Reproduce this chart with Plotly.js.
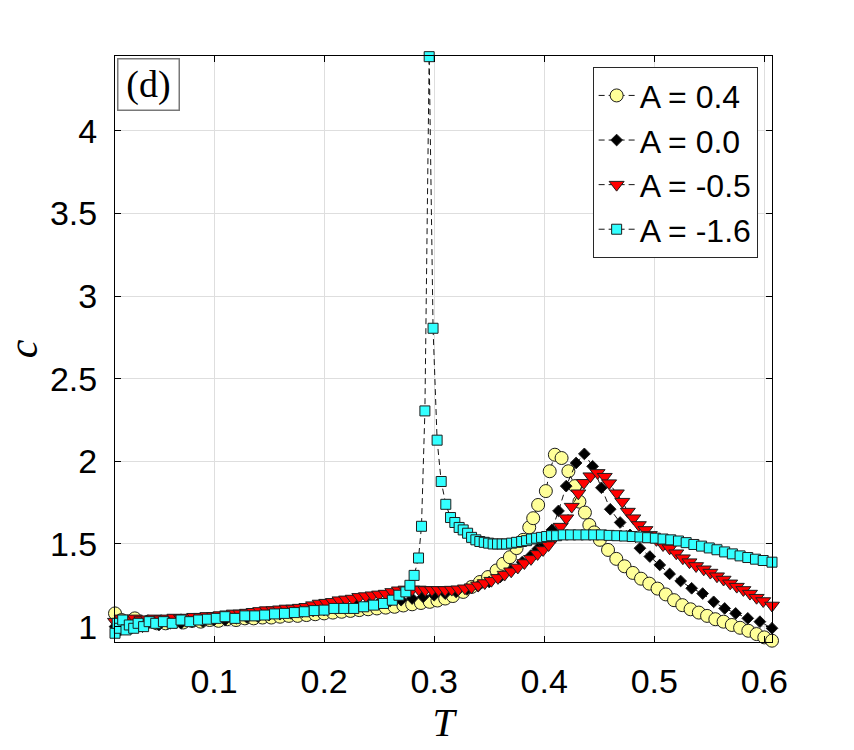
<!DOCTYPE html>
<html>
<head>
<meta charset="utf-8">
<script src="https://cdn.plot.ly/plotly-3.0.1.min.js"></script>
<style>html,body{margin:0;padding:0;background:#fff;}#chart{width:854px;height:750px;}</style>
</head>
<body>
<div id="chart"></div>
<script>
// Series names (legend labels)
const seriesNames = ["A = 0.4", "A = 0.0", "A = -0.5", "A = -1.6"];

// A = 0.4
const T_A04 = [0.010,0.016,0.022,0.028,0.034,0.040,0.048,0.056,0.064,0.072,
 0.080,0.088,0.096,0.104,0.112,0.120,0.128,0.136,0.144,0.152,
 0.160,0.168,0.176,0.184,0.192,0.200,0.208,0.216,0.224,0.232,
 0.240,0.248,0.256,0.264,0.272,0.280,0.288,0.296,0.303,0.310,
 0.317,0.3264,0.334,0.3416,0.349,0.3567,0.3627,0.3688,0.3749,0.3809,
 0.3864,0.390,0.3945,0.4015,0.405,0.4097,0.4158,0.422,0.428,0.432,
 0.437,0.441,0.4455,0.4506,0.458,0.4655,0.473,0.4805,0.488,0.4955,
 0.503,0.5105,0.518,0.5255,0.533,0.5405,0.548,0.5555,0.563,0.5705,
 0.578,0.5855,0.593,0.600,0.607];
const C_A04 = [1.08,1.04,1.01,1.05,1.01,1.03,1.02,1.02,1.03,1.025,
 1.035,1.03,1.04,1.035,1.045,1.04,1.05,1.05,1.055,1.055,
 1.06,1.065,1.065,1.07,1.075,1.08,1.085,1.09,1.095,1.10,
 1.105,1.11,1.115,1.12,1.128,1.135,1.143,1.15,1.158,1.17,
 1.185,1.21,1.24,1.27,1.30,1.34,1.38,1.42,1.475,1.525,
 1.60,1.656,1.736,1.82,1.94,2.04,2.02,1.94,1.85,1.756,
 1.69,1.615,1.57,1.525,1.464,1.41,1.365,1.325,1.29,1.26,
 1.23,1.195,1.16,1.13,1.105,1.085,1.065,1.045,1.03,1.01,
 0.993,0.975,0.955,0.935,0.915];

// A = 0.0
const T_A00 = [0.010,0.015,0.020,0.025,0.030,0.035,0.040,0.050,0.060,0.070,
 0.080,0.090,0.100,0.110,0.120,0.130,0.140,0.150,0.160,0.170,
 0.180,0.190,0.200,0.210,0.220,0.230,0.240,0.250,0.260,0.270,
 0.280,0.290,0.300,0.310,0.320,0.330,0.340,0.350,0.360,0.370,
 0.380,0.388,0.394,0.399,0.407,0.413,0.420,0.429,0.4365,0.444,
 0.452,0.460,0.469,0.478,0.487,0.496,0.505,0.514,0.524,0.534,
 0.544,0.554,0.564,0.574,0.585,0.596,0.607];
const C_A00 = [1.00,0.98,1.02,0.99,1.01,1.00,1.02,1.01,1.02,1.02,
 1.03,1.03,1.04,1.04,1.05,1.055,1.06,1.07,1.075,1.08,
 1.09,1.095,1.10,1.11,1.12,1.13,1.14,1.145,1.155,1.16,
 1.17,1.18,1.19,1.20,1.21,1.225,1.245,1.27,1.30,1.34,
 1.39,1.43,1.47,1.505,1.585,1.70,1.85,1.99,2.045,1.97,
 1.84,1.71,1.63,1.555,1.474,1.424,1.373,1.319,1.276,1.232,
 1.20,1.15,1.11,1.08,1.05,1.03,0.99];

// A = -0.5
const T_Am05 = [0.010,0.016,0.022,0.028,0.034,0.040,0.046,0.052,0.058,0.064,
 0.070,0.076,0.082,0.088,0.094,0.100,0.106,0.112,0.118,0.124,
 0.130,0.136,0.142,0.148,0.154,0.160,0.166,0.172,0.178,0.184,
 0.190,0.196,0.202,0.208,0.214,0.220,0.226,0.232,0.238,0.244,
 0.250,0.256,0.262,0.268,0.274,0.280,0.286,0.292,0.298,0.304,
 0.310,0.316,0.322,0.328,0.334,0.340,0.346,0.352,0.358,0.364,
 0.370,0.376,0.382,0.388,0.394,0.399,0.404,0.410,0.415,0.420,
 0.425,0.431,0.436,0.442,0.4485,0.455,0.459,0.466,0.471,0.476,
 0.481,0.486,0.492,0.496,0.502,0.508,0.514,0.520,0.526,0.532,
 0.538,0.545,0.551,0.557,0.563,0.569,0.575,0.581,0.587,0.593,
 0.599,0.607];
const C_Am05 = [1.03,1.05,1.04,1.05,1.04,1.045,1.05,1.045,1.05,1.055,
 1.05,1.055,1.06,1.06,1.065,1.065,1.07,1.075,1.08,1.08,
 1.085,1.09,1.095,1.10,1.10,1.105,1.11,1.11,1.115,1.12,
 1.13,1.14,1.145,1.15,1.16,1.165,1.17,1.18,1.185,1.19,
 1.195,1.20,1.21,1.22,1.225,1.225,1.225,1.222,1.222,1.222,
 1.222,1.224,1.226,1.232,1.238,1.25,1.264,1.278,1.295,1.315,
 1.335,1.358,1.385,1.41,1.44,1.464,1.494,1.544,1.605,1.656,
 1.726,1.807,1.87,1.91,1.93,1.907,1.868,1.807,1.756,1.696,
 1.656,1.615,1.585,1.555,1.525,1.494,1.474,1.444,1.414,1.39,
 1.367,1.347,1.327,1.305,1.285,1.262,1.242,1.222,1.20,1.175,
 1.155,1.128];

// A = -1.6
const T_Am16 = [0.010,0.012,0.014,0.017,0.020,0.023,0.027,0.031,0.036,0.041,
 0.047,0.054,0.062,0.070,0.078,0.086,0.094,0.102,0.110,0.119,
 0.128,0.137,0.146,0.155,0.164,0.173,0.182,0.191,0.200,0.209,
 0.218,0.227,0.236,0.245,0.254,0.262,0.268,0.2743,0.278,0.2818,
 0.2858,0.2885,0.2916,0.2955,0.299,0.3027,0.3064,0.3106,0.3149,0.3188,
 0.3227,0.3264,0.3304,0.334,0.3379,0.3415,0.3455,0.3495,0.3536,0.3576,
 0.3618,0.3658,0.3704,0.3749,0.3795,0.384,0.3885,0.3931,0.3976,0.4022,
 0.4067,0.4113,0.4173,0.424,0.431,0.438,0.445,0.452,0.459,0.466,
 0.473,0.480,0.487,0.494,0.501,0.508,0.515,0.522,0.529,0.536,
 0.543,0.550,0.557,0.564,0.571,0.578,0.585,0.592,0.599,0.607];
const C_Am16 = [0.96,1.02,0.99,1.04,0.98,1.01,0.99,1.02,1.00,1.03,
 1.02,1.03,1.02,1.04,1.03,1.04,1.045,1.05,1.06,1.05,
 1.065,1.065,1.07,1.077,1.08,1.085,1.09,1.097,1.10,1.11,
 1.11,1.11,1.12,1.13,1.14,1.16,1.19,1.21,1.25,1.31,
 1.415,1.607,2.305,4.448,2.805,2.128,1.878,1.74,1.66,1.63,
 1.60,1.585,1.565,1.54,1.525,1.515,1.51,1.505,1.50,1.50,
 1.50,1.50,1.505,1.51,1.515,1.52,1.53,1.535,1.54,1.545,
 1.55,1.55,1.555,1.555,1.555,1.555,1.555,1.555,1.552,1.55,
 1.548,1.545,1.542,1.538,1.535,1.53,1.525,1.518,1.508,1.497,
 1.487,1.476,1.465,1.452,1.44,1.428,1.418,1.408,1.40,1.39];

const xTicks = [0.1, 0.2, 0.3, 0.4, 0.5, 0.6];
const yTicks = [1, 1.5, 2, 2.5, 3, 3.5, 4];

const edge = 'rgb(30,30,30)';
const lineStyle = {color: 'rgb(20,20,20)', width: 1, dash: '6px,4px'};

function mk(x, y, name, symbol, size, fill) {
  return {
    x: x, y: y, name: name, type: 'scatter', mode: 'lines+markers',
    cliponaxis: false,
    line: lineStyle,
    marker: {symbol: symbol, size: size, color: fill, line: {color: edge, width: 1}}
  };
}

const data = [
  mk(T_A04, C_A04, seriesNames[0], 'circle', 13, 'rgb(255,255,153)'),
  mk(T_A00, C_A00, seriesNames[1], 'diamond', 9, 'rgb(0,0,0)'),
  mk(T_Am05, C_Am05, seriesNames[2], 'triangle-down', 13, 'rgb(255,0,0)'),
  mk(T_Am16, C_Am16, seriesNames[3], 'square', 10, 'rgb(51,255,255)')
];

const axisCommon = {
  showline: true, linecolor: 'black', linewidth: 1, mirror: 'ticks',
  ticks: 'inside', ticklen: 6, tickcolor: 'black', tickwidth: 1,
  showgrid: true, gridcolor: 'rgb(222,222,222)', gridwidth: 1,
  zeroline: false,
  tickfont: {family: 'Liberation Sans, Arial, sans-serif', size: 34, color: 'black'}
};

const layout = {
  width: 854, height: 750,
  paper_bgcolor: 'white', plot_bgcolor: 'white',
  margin: {l: 115, r: 82, t: 56, b: 108},
  showlegend: true,
  xaxis: Object.assign({}, axisCommon, {
    range: [0.01, 0.607], tickvals: xTicks, ticktext: xTicks.map(String),
    ticklabelstandoff: 9,
    title: {text: 'T', font: {family: 'Liberation Serif, serif', size: 40, style: 'italic', color: 'black'}, standoff: 0}
  }),
  yaxis: Object.assign({}, axisCommon, {
    range: [0.907, 4.452], tickvals: yTicks, ticktext: yTicks.map(String),
    ticklabelstandoff: 10,
    title: {text: 'c', font: {family: 'Liberation Serif, serif', size: 42, style: 'italic', color: 'black'}, standoff: 14}
  }),
  legend: {
    x: 0.727, y: 0.981, xanchor: 'left', yanchor: 'top',
    bgcolor: 'white', bordercolor: 'rgb(40,40,40)', borderwidth: 1,
    font: {family: 'Liberation Sans, Arial, sans-serif', size: 32, color: 'black'},
    itemwidth: 36, tracegroupgap: 0
  },
  annotations: [{
    xref: 'paper', yref: 'paper', x: 0, y: 1, xanchor: 'left', yanchor: 'top',
    xshift: 2, yshift: -2,
    text: '(d)', showarrow: false,
    font: {family: 'Liberation Serif, serif', size: 38, color: 'black'},
    bordercolor: 'rgb(120,120,120)', borderwidth: 1.5, borderpad: 2,
    bgcolor: 'white', width: 56, height: 46
  }]
};

Plotly.newPlot('chart', data, layout, {displayModeBar: false, staticPlot: true});
</script>
</body>
</html>
